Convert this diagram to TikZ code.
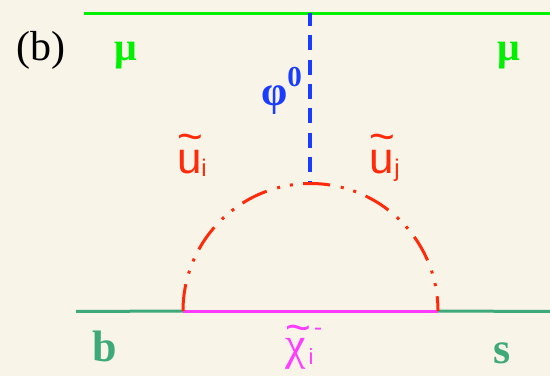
\documentclass[tikz,border=0pt]{standalone}
\usepackage{fontspec}
\setmainfont{Liberation Serif}
\setsansfont{Liberation Sans}
\usetikzlibrary{positioning,calc}
\definecolor{cBack}{HTML}{F8F4E8}
\definecolor{cMuon}{HTML}{00F000}
\definecolor{cQuark}{HTML}{3EAA7A}
\definecolor{cHiggs}{HTML}{1A3CFF}
\definecolor{cSquark}{HTML}{FF2A0A}
\definecolor{cChargino}{HTML}{FF3CFF}
\newcommand{\wavetop}[2]{\makebox[0pt][l]{\raisebox{#1}{\sffamily\fontsize{44}{44}\selectfont\textasciitilde}}#2}
\tikzset{
  x=1pt, y=1pt,
  lineMuon/.style={draw=cMuon, line width=3pt},
  lineQuark/.style={draw=cQuark, line width=3pt},
  lineChargino/.style={draw=cChargino, line width=3pt},
  lineHiggs/.style={draw=cHiggs, line width=3.5pt, dash pattern=on 15pt off 9.3pt, dash phase=2.5pt},
  lineSquark/.style={draw=cSquark, line width=3pt,
                     dash pattern=on 27pt off 11pt on 3pt off 10pt on 3pt off 10.3pt},
  lblBold/.style={font=\bfseries\fontsize{40}{40}\selectfont, inner sep=0pt},
  lblQuark/.style={font=\bfseries\fontsize{44}{44}\selectfont, text=cQuark, inner sep=0pt},
  lblU/.style={font=\sffamily\fontsize{44}{44}\selectfont, text=cSquark, inner sep=0pt, anchor=base},
  lblSub/.style={font=\sffamily\fontsize{24}{24}\selectfont, inner sep=0pt},
}
\begin{document}
\begin{tikzpicture}

\fill[cBack] (0,0) rectangle (550,376);
\useasboundingbox (0,0) rectangle (550,376);

% ========== LINES ==========
\coordinate (muL) at (84,362.5);
\coordinate (muR) at (550,362.5);
\coordinate (top) at (310,362.5);
\coordinate (apex) at (310,193);
\coordinate (bL) at (76,64.5);
\coordinate (sR) at (550,64.5);
\coordinate (vL) at (183,65);
\coordinate (vR) at (438,65);

\draw[lineMuon] (muL) -- (muR);
\draw[lineQuark] (bL) -- (vL);
\draw[lineQuark] (vR) -- (sR);
\draw[lineChargino] (vL) -- (vR);
\draw[lineHiggs] (top) -- (apex);
\draw[lineSquark] (vL) arc[start angle=180, end angle=0, radius=127.5];

% ========== LABELS ==========
\node[font=\fontsize{42}{42}\selectfont, inner sep=0pt] (lblPanel) at (41,326) {(b)};
\node[lblBold, text=cMuon] (lblMuL) at (125.5,320.5) {μ};
\node[lblBold, text=cMuon] (lblMuR) at (509,320.5) {μ};
\node[lblBold, text=cHiggs, font=\bfseries\fontsize{42}{42}\selectfont] (lblPhi) at (275,276) {φ};
\node[lblBold, text=cHiggs, font=\bfseries\fontsize{29}{29}\selectfont] (lblZero) at (294.5,299) {0};
\node[lblQuark] (lblB) at (104.5,30) {b};
\node[lblQuark] (lblS) at (502,22.5) {s};

\node[lblU] (lblUi) at (190,203) {\wavetop{21.5pt}{u}};
\node[lblSub, text=cSquark] (subI) at (204,208) {i};
\node[lblU] (lblUj) at (382,203) {\wavetop{21.5pt}{u}};
\node[lblSub, text=cSquark] (subJ) at (397,206) {j};

\node[font=\fontsize{46}{46}\selectfont, text=cChargino, inner sep=0pt, anchor=base] (lblChi) at (296,17) {\wavetop{16.5pt}{χ}};
\node[lblSub, text=cChargino, font=\sffamily\fontsize{22}{22}\selectfont] (subChi) at (311,19) {i};
\node[lblSub, text=cChargino] (supChi) at (318,44) {-};

\end{tikzpicture}
\end{document}
